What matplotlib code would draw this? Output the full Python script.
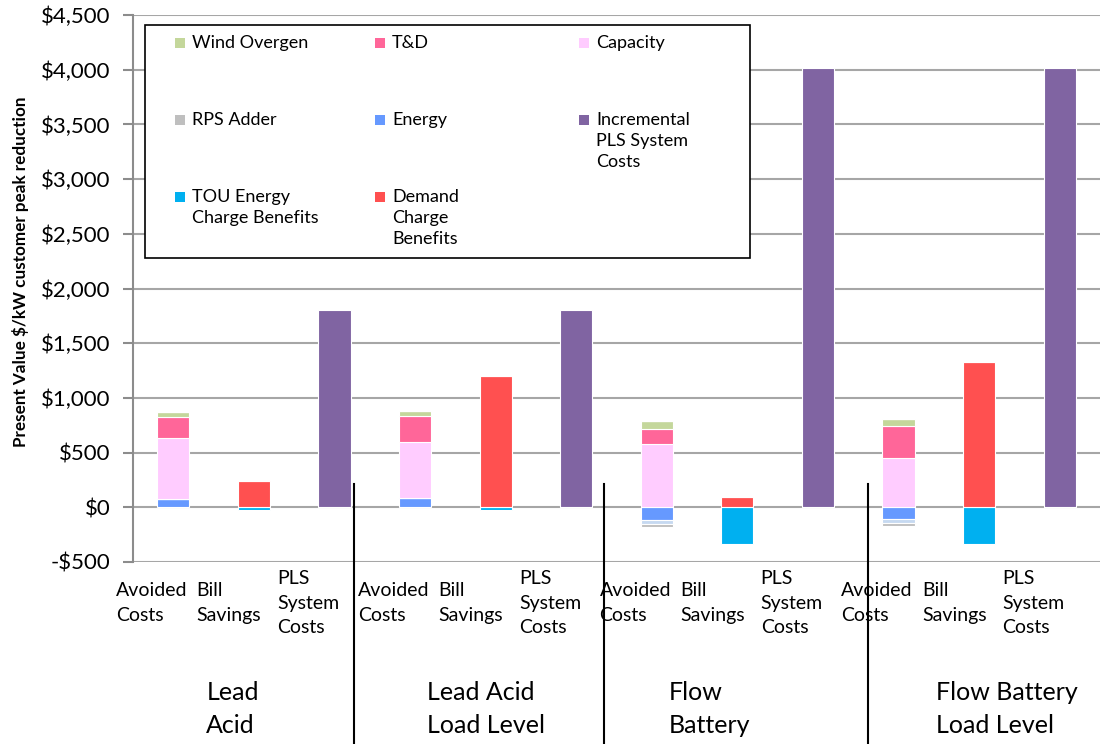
import numpy as np
import matplotlib
matplotlib.use('Agg')
import matplotlib.pyplot as plt
from matplotlib.patches import Rectangle

plt.rcParams['font.family'] = ['Lato', 'DejaVu Sans']

# bar slots: 4 technologies x (avoided costs, bill savings, PLS system costs)
bar_labels = ['Avoided\nCosts', 'Bill\nSavings', 'PLS\nSystem\nCosts'] * 4
group_labels = ['Lead\nAcid', 'Lead Acid\nLoad Level', 'Flow\nBattery', 'Flow Battery\nLoad Level']

# avoided cost components (one value per slot, 0 where not used)
energy       = [80, 0, 0, 88, 0, 0, -115, 0, 0, -105, 0, 0]
other_neg    = [0, 0, 0, 0, 0, 0, -35, 0, 0, -40, 0, 0]
rps_adder    = [0, 0, 0, 0, 0, 0, -30, 0, 0, -25, 0, 0]
capacity     = [555, 0, 0, 512, 0, 0, 575, 0, 0, 455, 0, 0]
t_and_d      = [190, 0, 0, 230, 0, 0, 140, 0, 0, 285, 0, 0]
wind_overgen = [50, 0, 0, 52, 0, 0, 77, 0, 0, 67, 0, 0]
# bill savings
tou_energy   = [0, -25, 0, 0, -25, 0, 0, -333, 0, 0, -333, 0]
demand       = [0, 240, 0, 0, 1200, 0, 0, 95, 0, 0, 1330, 0]
# costs
pls_cost     = [0, 0, 1800, 0, 0, 1800, 0, 0, 4020, 0, 0, 4020]

series = [
    ('Energy', energy, '#6699ff'),
    ('', other_neg, '#c6d9f1'),
    ('RPS Adder', rps_adder, '#bfbfbf'),
    ('Capacity', capacity, '#ffccff'),
    ('T&D', t_and_d, '#ff6699'),
    ('Wind Overgen', wind_overgen, '#c4d79b'),
    ('TOU Energy\nCharge Benefits', tou_energy, '#00b0f0'),
    ('Demand\nCharge\nBenefits', demand, '#ff5050'),
    ('Incremental\nPLS System\nCosts', pls_cost, '#8064a2'),
]

W, H = 1115, 744
fig = plt.figure(figsize=(W / 100, H / 100), dpi=100)
ax = fig.add_axes([133 / W, 1 - 562 / H, 967 / W, 547 / H])

x = np.arange(len(bar_labels))
pos_bottom = np.zeros(len(x))
neg_bottom = np.zeros(len(x))
colors = {}
for name, vals, col in series:
    vals = np.array(vals, dtype=float)
    bottom = np.where(vals >= 0, pos_bottom, neg_bottom)
    ax.bar(x, vals, 0.4, bottom=bottom, color=col, edgecolor='white', linewidth=0.8, zorder=3)
    pos_bottom += np.where(vals > 0, vals, 0)
    neg_bottom += np.where(vals < 0, vals, 0)
    colors[name] = col

ax.set_xlim(-0.5, len(x) - 0.5)
ax.set_ylim(-500, 4500)
ax.set_yticks(np.arange(-500, 4501, 500))
ax.set_yticklabels(['-$500'] + ['${:,}'.format(v) for v in range(0, 4501, 500)], fontsize=16)
ax.yaxis.grid(True, color='#a6a6a6', linewidth=1.5, zorder=0)
ax.set_xticks([])
for s in ['top', 'right', 'bottom']:
    ax.spines[s].set_visible(False)
ax.spines['left'].set_color('#8c8c8c')
ax.spines['left'].set_linewidth(1.5)
ax.tick_params(axis='y', color='#8c8c8c', width=1.5, length=7, pad=9)
ax.set_ylabel('Present Value $/kW customer peak reduction', fontsize=12.3, fontweight='bold')
ax.yaxis.set_label_coords(-0.108, 0.53)

# category labels under each bar (left aligned block, as in the original)
for i, lab in enumerate(bar_labels):
    ax.text(i - 0.71, -0.075, lab, transform=ax.get_xaxis_transform(), ha='left', va='center',
            fontsize=14, linespacing=1.55)

group_x = [0.41, 3.15, 6.15, 9.47]
for gx, lab in zip(group_x, group_labels):
    ax.text(gx, -0.269, lab, transform=ax.get_xaxis_transform(), ha='left', va='center',
            fontsize=18, linespacing=1.5)

# separators between groups
for sx in [2.245, 5.35, 8.62]:
    ax.plot([sx, sx], [0.143, -0.35], transform=ax.get_xaxis_transform(), color='black',
            linewidth=1.5, clip_on=False)

# legend box drawn by hand, laid out like the original (3 columns, marker by first line)
def fx(px):
    return px / W

def fy(py):
    return 1 - py / H

fig.patches.append(Rectangle((fx(145), fy(258)), fx(750) - fx(145), fy(25) - fy(258),
                             transform=fig.transFigure, facecolor='white', edgecolor='black',
                             linewidth=1.2, zorder=5))
legend_rows = [['Wind Overgen', 'T&D', 'Capacity'],
               ['RPS Adder', 'Energy', 'Incremental\nPLS System\nCosts'],
               ['TOU Energy\nCharge Benefits', 'Demand\nCharge\nBenefits']]
col_px = [180, 380, 584]
row_px = [43, 120, 197]
for r, row in enumerate(legend_rows):
    for c, name in enumerate(row):
        cx, cy = col_px[c], row_px[r]
        fig.patches.append(Rectangle((fx(cx - 5), fy(cy + 5)), fx(10), 10 / H,
                                     transform=fig.transFigure, facecolor=colors[name],
                                     edgecolor='none', zorder=6))
        fig.text(fx(cx + 12), fy(cy - 8), name, ha='left', va='top', fontsize=13,
                 linespacing=1.38, zorder=6)

fig.savefig('out.png', dpi=100)
